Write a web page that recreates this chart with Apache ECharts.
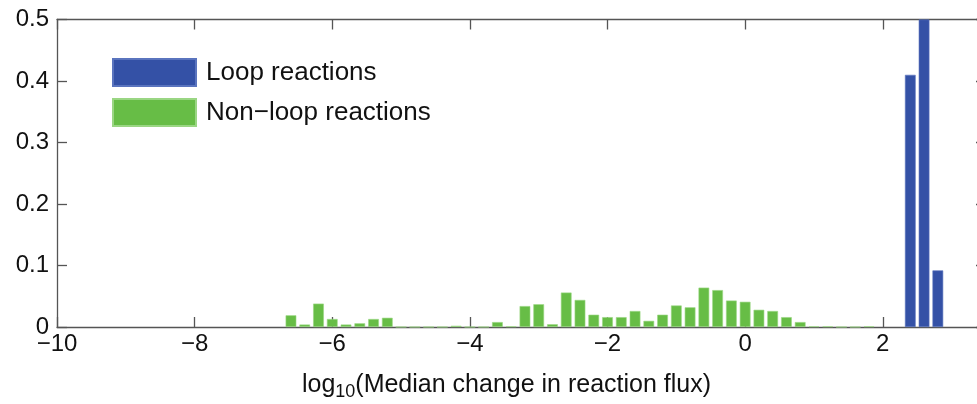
<!DOCTYPE html>
<html><head><meta charset="utf-8">
<script src="https://cdn.jsdelivr.net/npm/echarts@6/dist/echarts.min.js"></script>
<style>html,body{margin:0;padding:0;background:#fff}#c{width:977px;height:404px}</style>
</head><body><div id="c"></div>
<script>
// Bin centres (log10 scale) and fraction of reactions
const loopBins = [2.4, 2.6, 2.8];
const loopValues = [0.41, 0.5, 0.092];
const nonLoopBins = [-6.6,-6.4,-6.2,-6.0,-5.8,-5.6,-5.4,-5.2,-5.0,-4.8,-4.6,-4.4,-4.2,-4.0,-3.8,-3.6,-3.4,-3.2,-3.0,-2.8,-2.6,-2.4,-2.2,-2.0,-1.8,-1.6,-1.4,-1.2,-1.0,-0.8,-0.6,-0.4,-0.2,0.0,0.2,0.4,0.6,0.8,1.0,1.2,1.4,1.6,1.8];
const nonLoopValues = [0.019,0.004,0.038,0.013,0.004,0.006,0.013,0.015,0,0,0,0,0.002,0,0,0.008,0.001,0.034,0.037,0.0045,0.056,0.044,0.020,0.016,0.016,0.026,0.010,0.020,0.035,0.032,0.064,0.060,0.043,0.041,0.028,0.026,0.016,0.008,0.001,0.001,0,0,0.001];
const xTicks = [-10,-8,-6,-4,-2,0,2];
const yTicks = [0,0.1,0.2,0.3,0.4,0.5];

const FONT = 'Liberation Sans, Arial, sans-serif';
const AX = '#555';
const chart = echarts.init(document.getElementById('c'));
const fmtX = v => String(v).replace('-', '\u2212');
const line = {show: true, onZero: false, lineStyle: {color: AX, width: 1.3}};
const tick = {show: true, inside: true, length: 10, lineStyle: {color: AX, width: 1.3}};
chart.setOption({
  animation: false,
  textStyle: {fontFamily: FONT},
  grid: {left: 57, right: -9, top: 19.5, bottom: 77, containLabel: false, outerBoundsMode: 'none'},
  legend: {
    orient: 'vertical', left: 107, top: 53, itemWidth: 83, itemHeight: 27, itemGap: 11,
    icon: 'rect',
    textStyle: {fontSize: 26, color: '#111', fontFamily: FONT, padding: [0,0,0,5]},
    data: ['Loop reactions', 'Non\u2212loop reactions']
  },
  xAxis: [{
    type: 'value', min: xTicks[0], max: 3.5, interval: 2,
    axisLine: line, axisTick: tick, splitLine: {show: false},
    axisLabel: {fontSize: 24, color: '#111', margin: 5, showMaxLabel: false,
      formatter: v => xTicks.includes(v) ? fmtX(v) : ''},
    name: '{a|log}{s|10}{a|(Median change in reaction flux)}',
    nameLocation: 'middle', nameGap: 42,
    nameTextStyle: {padding: [0, 30, 0, 0], rich: {
      a: {fontSize: 25, color: '#111', fontFamily: FONT},
      s: {fontSize: 18, color: '#111', fontFamily: FONT, verticalAlign: 'bottom', padding: [14,0,0,0]}
    }}
  }, {
    type: 'value', position: 'top', min: xTicks[0], max: 3.5, interval: 2,
    axisLine: line, axisTick: tick,
    axisLabel: {show: false}, splitLine: {show: false}
  }],
  yAxis: [{
    type: 'value', min: 0, max: 0.5, interval: 0.1,
    axisLine: line, axisTick: tick, splitLine: {show: false},
    axisLabel: {fontSize: 24, color: '#111', margin: 8, formatter: v => String(+v.toFixed(1))}
  }, {
    type: 'value', position: 'right', min: 0, max: 0.5, interval: 0.1,
    axisLine: line, axisTick: tick,
    axisLabel: {show: false}, splitLine: {show: false}
  }],
  series: [{
    name: 'Loop reactions', type: 'bar', stack: 'h', barWidth: 10.7,
    itemStyle: {color: '#3451a6', borderColor: '#5a74be', borderWidth: 0.6},
    data: loopBins.map((b, i) => [b, loopValues[i]])
  }, {
    name: 'Non\u2212loop reactions', type: 'bar', stack: 'h', barWidth: 10.7,
    itemStyle: {color: '#67bd46', borderColor: '#9ad683', borderWidth: 0.6},
    data: nonLoopBins.map((b, i) => [b, nonLoopValues[i]])
  }]
});
</script></body></html>
